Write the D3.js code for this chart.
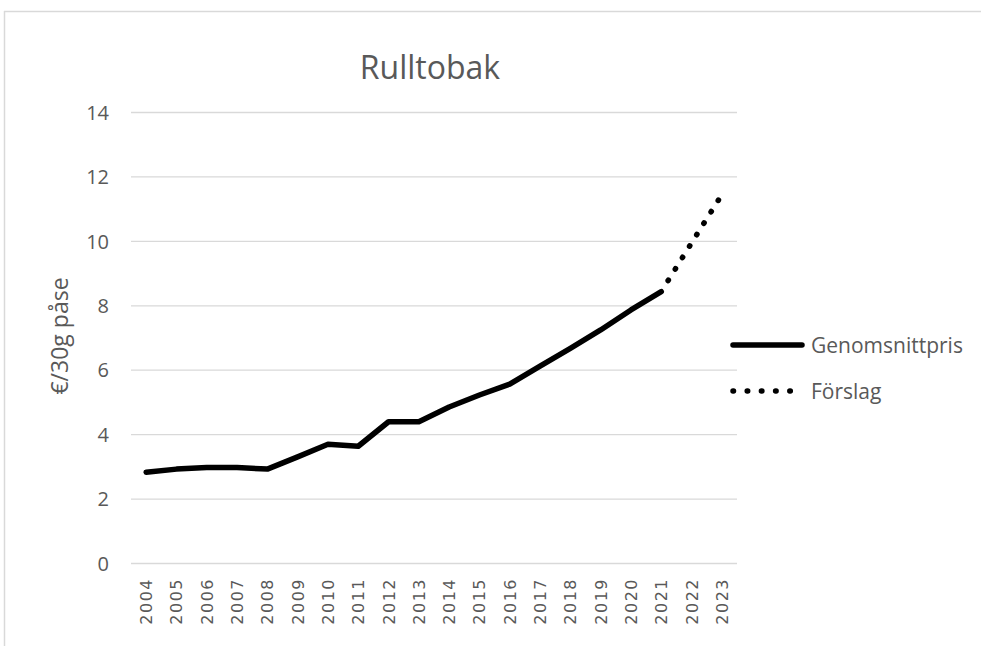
<!DOCTYPE html>
<html>
<head>
<meta charset="utf-8">
<script src="https://d3js.org/d3.v7.min.js"></script>
<style>
  body { margin: 0; background: #fff; }
  text { font-family: "Open Sans", Lato, sans-serif; fill: #595959; }
  .grid line { stroke: #d9d9d9; stroke-width: 1.3; }
</style>
</head>
<body>
<div id="chart"></div>
<script>
// data (€ per 30g pouch)
var years = ["2004","2005","2006","2007","2008","2009","2010","2011","2012","2013",
             "2014","2015","2016","2017","2018","2019","2020","2021","2022","2023"];
var avgYears = years.slice(0, 18);
var avgPrice = [2.83, 2.93, 2.98, 2.98, 2.93, 3.31, 3.70, 3.64, 4.40, 4.40,
                4.86, 5.23, 5.57, 6.13, 6.68, 7.25, 7.87, 8.44];
var propYears = ["2021", "2022", "2023"];
var propPrice = [8.44, 9.95, 11.45];
var yTicks = [0, 2, 4, 6, 8, 10, 12, 14];

var width = 981, height = 646;

var svg = d3.select("#chart").append("svg")
    .attr("width", width)
    .attr("height", height);

// chart area frame (only top and left edges visible)
svg.append("line").attr("x1", 4).attr("x2", width).attr("y1", 11.5).attr("y2", 11.5)
  .attr("stroke", "#d9d9d9").attr("stroke-width", 1.5);
svg.append("line").attr("x1", 4.5).attr("x2", 4.5).attr("y1", 11).attr("y2", height)
  .attr("stroke", "#d9d9d9").attr("stroke-width", 1.5);

var x = d3.scaleBand().domain(years).range([131, 737]);
var y = d3.scaleLinear().domain([0, 14]).range([563.5, 112.5]);
var cx = function(d){ return x(d) + x.bandwidth() / 2; };

// gridlines
svg.append("g").attr("class", "grid")
  .selectAll("line").data(yTicks).enter().append("line")
  .attr("x1", 131).attr("x2", 737)
  .attr("y1", function(d){ return y(d); })
  .attr("y2", function(d){ return y(d); });

// y tick labels
svg.append("g").selectAll("text").data(yTicks).enter().append("text")
  .attr("x", 109)
  .attr("y", function(d){ return y(d); })
  .attr("dy", "0.36em")
  .attr("text-anchor", "end")
  .style("font-size", "20px")
  .text(function(d){ return d; });

// x tick labels (rotated)
svg.append("g").selectAll("text").data(years).enter().append("text")
  .attr("transform", function(d){ return "translate(" + (cx(d) + 6) + ",578) rotate(-90)"; })
  .attr("text-anchor", "end")
  .style("font-family", "'DejaVu Sans', sans-serif")
  .style("font-size", "16px")
  .style("letter-spacing", "1.5px")
  .text(function(d){ return d; });

// title
svg.append("text")
  .attr("x", 430).attr("y", 79)
  .attr("text-anchor", "middle")
  .style("font-size", "32px")
  .text("Rulltobak");

// y axis title
svg.append("text")
  .attr("transform", "translate(68,336) rotate(-90)")
  .attr("text-anchor", "middle")
  .style("font-size", "23px")
  .text("€/30g påse");

var line = d3.line()
  .x(function(d){ return cx(d[0]); })
  .y(function(d){ return y(d[1]); });

svg.append("path")
  .datum(d3.zip(avgYears, avgPrice))
  .attr("d", line)
  .attr("fill", "none")
  .attr("stroke", "#000")
  .attr("stroke-width", 5.5)
  .attr("stroke-linejoin", "round")
  .attr("stroke-linecap", "round");

svg.append("path")
  .datum(d3.zip(propYears, propPrice))
  .attr("d", line)
  .attr("fill", "none")
  .attr("stroke", "#000")
  .attr("stroke-width", 5.5)
  .attr("stroke-dasharray", "0.5 13")
  .attr("stroke-dashoffset", -13)
  .attr("stroke-linecap", "round");

// legend
var legend = [
  {name: "Genomsnittpris", dash: null, y: 345},
  {name: "Förslag", dash: "0.5 13.7", y: 391}
];
var lg = svg.append("g").selectAll("g").data(legend).enter().append("g");
lg.append("line")
  .attr("x1", 733).attr("x2", 802)
  .attr("y1", function(d){ return d.y; })
  .attr("y2", function(d){ return d.y; })
  .attr("stroke", "#000")
  .attr("stroke-width", 5.5)
  .attr("stroke-linecap", "round")
  .attr("stroke-dasharray", function(d){ return d.dash; });
lg.append("text")
  .attr("x", 811)
  .attr("y", function(d){ return d.y; })
  .attr("dy", "0.36em")
  .style("font-size", "21px")
  .text(function(d){ return d.name; });
</script>
</body>
</html>
